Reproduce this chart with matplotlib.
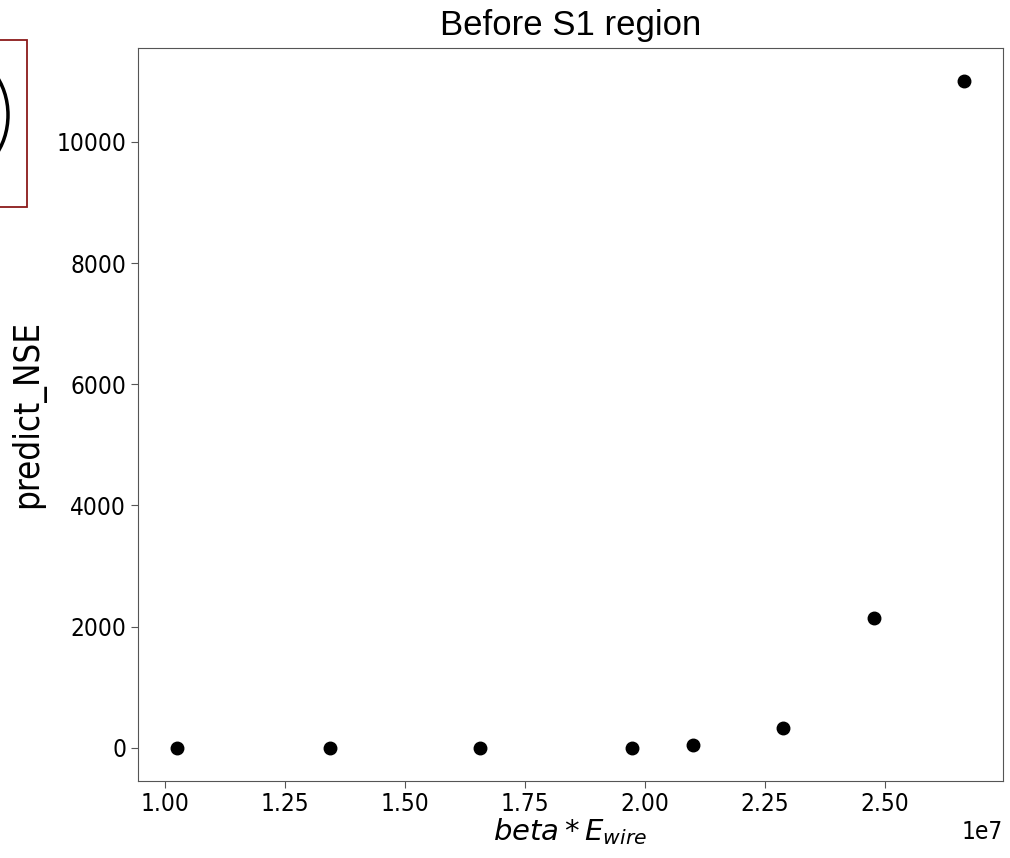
import matplotlib
matplotlib.use('Agg')
import matplotlib.pyplot as plt
from matplotlib.patches import Rectangle, Ellipse

# %%
beta_e_wire = [1.026e7, 1.344e7, 1.657e7, 1.974e7, 2.100e7, 2.288e7, 2.478e7, 2.665e7]
predict_nse = [0, 0, 0, 0, 50, 330, 2140, 11000]

# %%
fig = plt.figure(figsize=(10.1, 8.58), dpi=100)
W, H = 1010, 858
ax = fig.add_axes([138 / W, 1 - 781 / H, (1003 - 138) / W, (781 - 48) / H])

ax.plot(beta_e_wire, predict_nse, 'o', color='black', markersize=9)

ax.set_xticks([1.0e7, 1.25e7, 1.5e7, 1.75e7, 2.0e7, 2.25e7, 2.5e7])
ax.set_yticks([0, 2000, 4000, 6000, 8000, 10000])
ax.tick_params(labelsize=17.5, color='#555555', length=5)
ax.tick_params(axis='x', pad=3)
for lab in ax.get_xticklabels() + ax.get_yticklabels():
    lab.set_fontstretch('condensed')
for s in ax.spines.values():
    s.set_color('#555555')

ax.set_xlabel(r'$beta * E_{wire}$', fontsize=21, labelpad=0)
ax.set_ylabel('predict_NSE', fontsize=25, labelpad=8, fontstretch='condensed')
ax.xaxis.get_offset_text().set_fontsize(17.5)
ax.xaxis.get_offset_text().set_fontstretch('condensed')

fig.text(571 / W, 1 - 26 / H, 'Before S1 region', ha='center', va='center',
         fontsize=25, family='Liberation Sans')

# cropped annotation box at top left
fig.patches.append(Rectangle((-10, H - 207), 37, 167, transform=None,
                             fill=False, edgecolor='#8b1a1a', linewidth=1.3))
fig.patches.append(Ellipse((-40, H - 115), 96, 120, transform=None,
                           fill=False, edgecolor='black', linewidth=2.5))

plt.savefig('out.png', dpi=100)
